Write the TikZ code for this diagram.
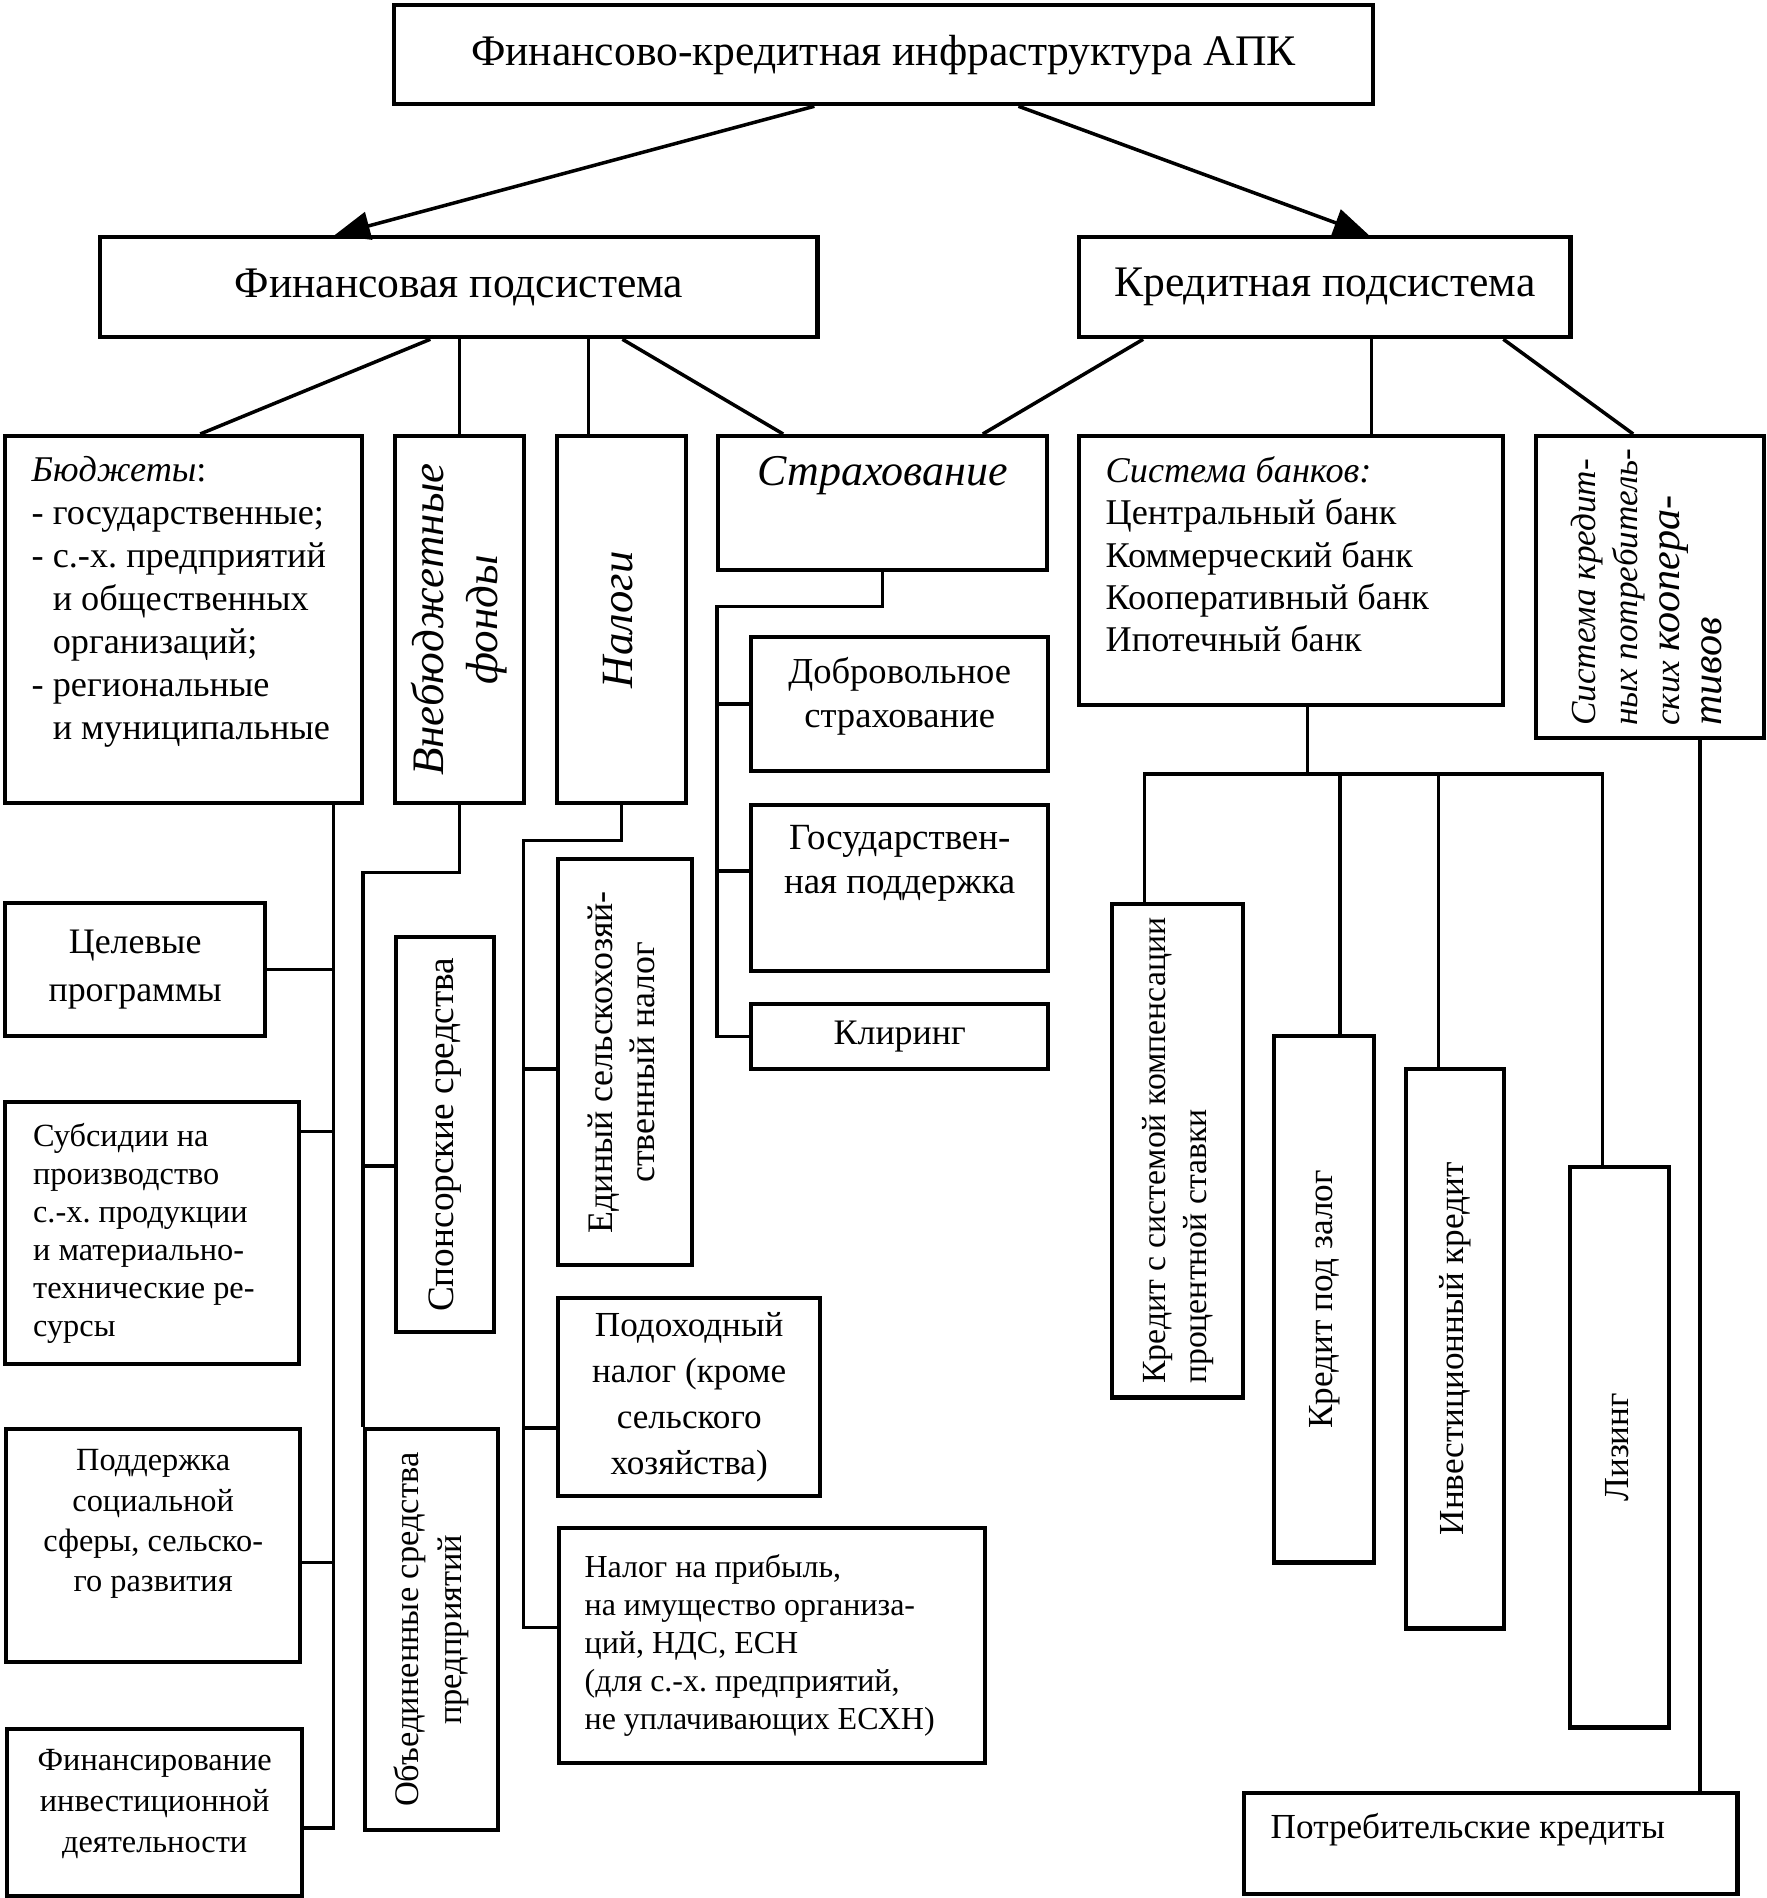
\documentclass[tikz,border=0pt]{standalone}
\usepackage{fontspec}
\setmainfont{Liberation Serif}
\usepackage{graphicx}
\usetikzlibrary{arrows.meta,positioning}
\frenchspacing

\newcommand{\vtxt}[2]{\rotatebox{90}{\begin{tabular}{@{}#1@{}}#2\end{tabular}}}

\begin{document}
\begin{tikzpicture}[x=0.01cm, y=-0.01cm,
	font=\fontsize{10}{12}\selectfont,
	box/.style={draw, line width=1.2pt, anchor=north west, inner sep=0pt, align=center},
	lbox/.style={box, align=flush left, inner xsep=0.28cm},
	toptext/.style 2 args={label={[anchor=north, align=center, inner sep=0pt, yshift=-0.22cm, font=#1]north:{#2}}},
	topleft/.style 2 args={label={[anchor=north west, align=flush left, inner sep=0pt, xshift=0.28cm, yshift=-0.22cm, font=#1]north west:{#2}}},
	line/.style={line width=1pt},
	arr/.style={line width=1pt, -{Triangle[length=10pt,width=8pt]}}]
	\useasboundingbox (0,0) rectangle (1766,1898);
	% top level
	\node[box, minimum width=9.78cm, minimum height=0.99cm, font=\fontsize{12.4}{14}\selectfont] (top) at (392,3) {Финансово-кредитная инфраструктура АПК};
	\node[box, minimum width=7.17cm, minimum height=1cm, font=\fontsize{12.4}{14}\selectfont] (fin) at (98,235) {Финансовая подсистема};
	\node[box, minimum width=4.91cm, minimum height=1cm, font=\fontsize{12.4}{14}\selectfont] (kred) at (1077,235) {Кредитная подсистема};
	% financial subsystem
	\node[box, minimum width=3.57cm, minimum height=3.67cm, topleft={\fontsize{10.3}{12.2}\selectfont}{\textit{Бюджеты}:\\- государственные;\\- с.-х. предприятий\\\hphantom{- }и общественных\\\hphantom{- }организаций;\\- региональные\\\hphantom{- }и муниципальные}] (budget) at (3,434) {};
	\node[box, minimum width=1.29cm, minimum height=3.67cm] (vneb) at (393,434) {\fontsize{12.8}{15.5}\selectfont\itshape\vtxt{c}{Внебюджетные\\фонды}};
	\node[box, minimum width=1.29cm, minimum height=3.67cm] (nalogi) at (555,434) {\fontsize{12.7}{15}\selectfont\itshape\vtxt{c}{Налоги}};
	\node[box, minimum width=3.29cm, minimum height=1.34cm, toptext={\fontsize{12.5}{15}\selectfont\itshape}{Страхование}] (strakh) at (716,434) {};
	\node[box, minimum width=2.97cm, minimum height=1.34cm, toptext={\fontsize{10.4}{12.3}\selectfont}{Добровольное\\страхование}] (dobr) at (749,635) {};
	\node[box, minimum width=2.97cm, minimum height=1.66cm, toptext={\fontsize{10.5}{12.3}\selectfont}{Государствен-\\ная поддержка}] (gos) at (749,803) {};
	\node[box, minimum width=2.97cm, minimum height=0.65cm, font=\fontsize{10.2}{12}\selectfont] (klir) at (749,1002) {Клиринг};
	\node[box, minimum width=2.60cm, minimum height=1.33cm, font=\fontsize{10.2}{13.5}\selectfont] (celev) at (3,901) {Целевые\\программы};
	\node[lbox, text width=2.38cm, minimum height=2.62cm, font=\fontsize{9.2}{10.8}\selectfont] (subs) at (3,1100) {Субсидии на\\производство\\с.-х. продукции\\и материально-\\технические ре-\\сурсы};
	\node[box, minimum width=2.94cm, minimum height=2.33cm, toptext={\fontsize{9.2}{11.4}\selectfont}{Поддержка\\социальной\\сферы, сельско-\\го развития}] (podd) at (4,1427) {};
	\node[box, minimum width=2.95cm, minimum height=1.67cm, toptext={\fontsize{9.2}{11.6}\selectfont}{Финансирование\\инвестиционной\\деятельности}] (fininv) at (5,1727) {};
	\node[box, minimum width=0.98cm, minimum height=3.95cm] (spons) at (394,935) {\fontsize{10.6}{12}\selectfont\vtxt{c}{Спонсорские средства}};
	\node[box, minimum width=1.33cm, minimum height=4.01cm] (obed) at (363,1427) {\fontsize{9.8}{12}\selectfont\vtxt{c}{Объединенные средства\\предприятий}};
	\node[box, minimum width=1.34cm, minimum height=4.06cm] (edin) at (556,857) {\fontsize{10.2}{12}\selectfont\vtxt{c}{Единый сельскохозяй-\\ственный налог}};
	\node[box, minimum width=2.62cm, minimum height=1.98cm, font=\fontsize{10}{13}\selectfont] (podoh) at (556,1296) {Подоходный\\налог (кроме\\сельского\\хозяйства)};
	\node[lbox, inner xsep=0.255cm, text width=3.75cm, minimum height=2.35cm, font=\fontsize{9.1}{10.8}\selectfont] (nalpr) at (557,1526) {Налог на прибыль,\\на имущество организа-\\ций, НДС, ЕСН\\(для с.-х. предприятий,\\не уплачивающих ЕСХН)};
	% credit subsystem
	\node[box, minimum width=4.24cm, minimum height=2.69cm, topleft={\fontsize{10.3}{12}\selectfont}{\textit{Система банков:}\\Центральный банк\\Коммерческий банк\\Кооперативный банк\\Ипотечный банк}] (bank) at (1077,434) {};
	\node[box, minimum width=2.28cm, minimum height=3.02cm] (koop) at (1534,434) {\itshape\vtxt{l}{Система кредит-\\ных потребитель-\\ских {\large коопера-}\\{\large тивов}}};
	\node[box, minimum width=1.31cm, minimum height=4.93cm] (krsist) at (1110,902) {\fontsize{9.6}{11.8}\selectfont\vtxt{l}{Кредит с системой компенсации\\процентной ставки}};
	\node[box, minimum width=1.00cm, minimum height=5.26cm] (krzal) at (1272,1034) {\vtxt{c}{Кредит под залог}};
	\node[box, minimum width=0.98cm, minimum height=5.59cm] (inv) at (1404,1067) {\vtxt{c}{Инвестиционный кредит}};
	\node[box, minimum width=0.99cm, minimum height=5.60cm] (liz) at (1568,1165) {\vtxt{c}{Лизинг}};
	\node[box, minimum width=4.93cm, minimum height=1.01cm, topleft={\fontsize{10}{12}\selectfont}{Потребительские кредиты}] (potr) at (1242,1791) {};
	% arrows and connectors
	\draw[arr] ([xshift=-0.69cm]top.south) -- ([xshift=-1.24cm]fin.north);
	\draw[arr] ([xshift=1.35cm]top.south) -- ([xshift=0.44cm]kred.north);
	\draw[line] ([xshift=-0.285cm]fin.south) -- ([xshift=0.165cm]budget.north);
	\draw[line] (vneb.north) -- (vneb.north |- fin.south);
	\coordinate (n1) at ([xshift=-0.33cm]nalogi.north);
	\draw[line] (n1) -- (n1 |- fin.south);
	\draw[line] ([xshift=1.635cm]fin.south) -- ([xshift=-0.995cm]strakh.north);
	\draw[line] ([xshift=-1.815cm]kred.south) -- ([xshift=1cm]strakh.north);
	\coordinate (b1) at ([xshift=0.8cm]bank.north);
	\draw[line] (b1) -- (b1 |- kred.south);
	\draw[line] ([xshift=1.785cm]kred.south) -- ([xshift=-0.17cm]koop.north);
	% budgets
	\coordinate (bt) at ([xshift=-0.31cm]budget.south east);
	\coordinate (fi) at ([yshift=-0.155cm]fininv.east);
	\draw[line] (bt) |- (fi);
	\draw[line] (celev.east) -- (celev.east -| bt);
	\coordinate (su) at ([yshift=-0.315cm]subs.north east);
	\draw[line] (su) -- (su -| bt);
	\coordinate (po) at ([yshift=-0.17cm]podd.east);
	\draw[line] (po) -- (po -| bt);
	% funds
	\draw[line] (vneb.south) -- ++(0,67) -| (obed.north west);
	\coordinate (sp) at ([yshift=-0.315cm]spons.west);
	\draw[line] (sp) -- (sp -| obed.north west);
	% taxes
	\coordinate (np) at ([xshift=-0.335cm, yshift=0.18cm]nalpr.west);
	\draw[line] (nalogi.south) -- ++(0,35) -| (np) -- ([yshift=0.18cm]nalpr.west);
	\coordinate (ed) at ([yshift=-0.07cm]edin.west);
	\draw[line] (ed) -- (ed -| np);
	\coordinate (ph) at ([yshift=-0.31cm]podoh.west);
	\draw[line] (ph) -- (ph -| np);
	% insurance
	\coordinate (kt) at ([xshift=-0.32cm]klir.west);
	\draw[line] (strakh.south) -- ++(0,34) -| (kt) -- (klir.west);
	\draw[line] (dobr.west) -- (dobr.west -| kt);
	\coordinate (gs) at ([yshift=0.17cm]gos.west);
	\draw[line] (gs) -- (gs -| kt);
	% banks
	\coordinate (bs) at ([xshift=0.16cm]bank.south);
	\coordinate (bus) at ([yshift=-0.665cm]bs);
	\draw[line] (bs) -- (bus);
	\draw[line] ([xshift=-0.33cm]krsist.north) |- (bus) -| ([xshift=-0.17cm]liz.north);
	\coordinate (kz) at ([xshift=0.16cm]krzal.north);
	\draw[line] (kz) -- (kz |- bus);
	\coordinate (iv) at ([xshift=-0.165cm]inv.north);
	\draw[line] (iv) -- (iv |- bus);
	% cooperatives
	\coordinate (ks) at ([xshift=0.5cm]koop.south);
	\draw[line] (ks) -- (ks |- potr.north);
\end{tikzpicture}
\end{document}
